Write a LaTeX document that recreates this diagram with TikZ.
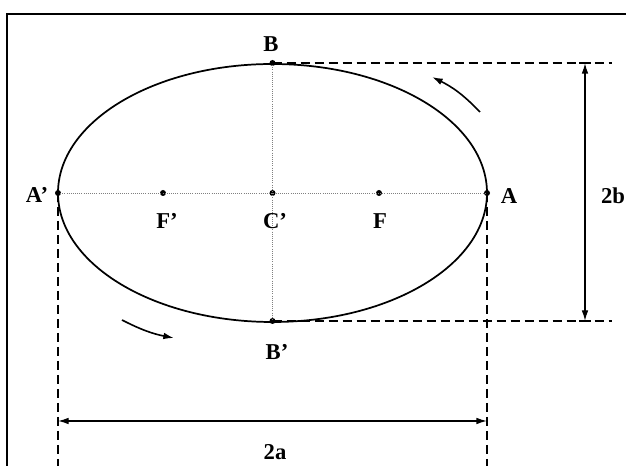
\documentclass[tikz,border=0pt]{standalone}
\usepackage{fontspec}
\setmainfont{Liberation Serif}
\usetikzlibrary{arrows.meta}
\begin{document}
\begin{tikzpicture}[x=0.75pt,y=-0.75pt,
  lbl/.style={font=\fontsize{17}{19}\selectfont\bfseries, inner sep=0pt},
  pt/.style={circle, fill=black, inner sep=0pt, minimum size=4.5pt},
  axisline/.style={densely dotted, gray, line width=0.6pt},
  dimdash/.style={dashed, dash pattern=on 7pt off 3.5pt, line width=1.2pt},
  dimarrow/.style={line width=1pt, {Latex[length=8pt,width=5pt]}-{Latex[length=8pt,width=5pt]}},
  motion/.style={line width=1.2pt, -{Latex[length=8pt,width=5pt]}},
  frameline/.style={line width=2.2pt}]
\useasboundingbox (0,0) rectangle (626,466);
\fill[white] (0,0) rectangle (626,466);
% frame
\draw[frameline] (7,466) -- (7,14) -- (626,14);
% points
\coordinate (C0) at (272.5,193);
\node[pt] (Ap) at (58,193) {};
\node[pt] (A) at (487,193) {};
\node[pt] (Fp) at (163,193) {};
\node[pt] (C) at (272.5,193) {};
\node[pt] (F) at (379,193) {};
\node[pt] (B) at (272.5,63) {};
\node[pt] (Bp) at (272.5,321) {};
% axes
\draw[axisline] (Ap.center) -- (A.center);
\draw[axisline] (B.center) -- (Bp.center);
% ellipse
\draw[line width=1.3pt] (C0) ellipse [x radius=214.5, y radius=129];
% dashed extension lines
\coordinate (TR) at (612,63);
\coordinate (BR) at (612,321);
\coordinate (AL) at (58,466);
\coordinate (AR) at (487,466);
\draw[dimdash] (B.center) -- (TR);
\draw[dimdash] (Bp.center) -- (BR);
\draw[dimdash] (Ap.center) -- (AL);
\draw[dimdash] (A.center) -- (AR);
% dimension arrows
\coordinate (VT) at (585,63);
\coordinate (VB) at (585,321);
\coordinate (HL) at (58,421);
\coordinate (HR) at (487,421);
\draw[dimarrow] (VT) -- (VB);
\draw[dimarrow] (HL) -- (HR);
\draw[line width=1pt] (579,63) -- (591,63) (579,321) -- (591,321);
% motion arrows
\coordinate (m1s) at (480,112);
\coordinate (m1e) at (432,77);
\coordinate (m2s) at (122,320);
\coordinate (m2e) at (174,338);
\draw[motion] (m1s) to[bend right=10] (m1e);
\draw[motion] (m2s) to[bend right=8] (m2e);
% labels
\node[lbl] (lB) at (271,44) {B};
\node[lbl] (lBp) at (277,352) {B’};
\node[lbl] (lAp) at (37,195) {A’};
\node[lbl] (lA) at (509,196) {A};
\node[lbl] (lFp) at (167,221) {F’};
\node[lbl] (lC) at (275,221) {C’};
\node[lbl] (lF) at (380,221) {F};
\node[lbl] (l2b) at (613,196) {2b};
\node[lbl] (l2a) at (275,452) {2a};
\end{tikzpicture}
\end{document}
